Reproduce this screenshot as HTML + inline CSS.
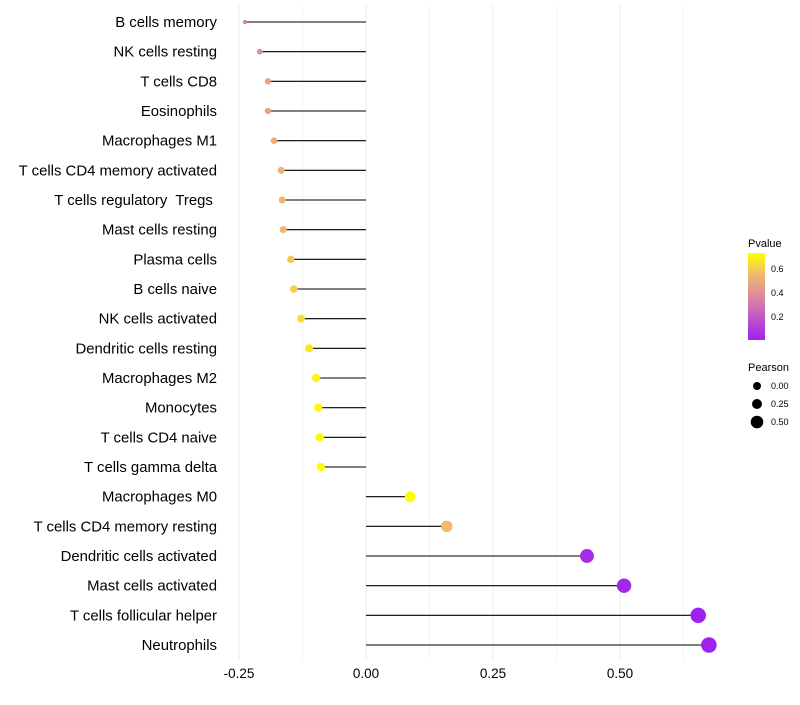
<!DOCTYPE html>
<html><head><meta charset="utf-8"><style>
body{margin:0;background:#fff;font-family:"Liberation Sans",sans-serif;}
text{white-space:pre;}
</style></head><body>
<svg id="chart" width="800" height="700" xmlns="http://www.w3.org/2000/svg">
<g id="grid"></g>
<g id="marks"></g>
<g id="ylabels"></g>
<g id="xlabels"></g>
<g>
<defs><linearGradient id="pg" x1="0" y1="1" x2="0" y2="0">
<stop offset="0" stop-color="#A020F0"/><stop offset="0.5" stop-color="#DB8A9E"/><stop offset="0.75" stop-color="#F0B86E"/><stop offset="1" stop-color="#FFFF00"/></linearGradient></defs>
<text x="748" y="247" font-size="11" fill="#000">Pvalue</text>
<rect x="748" y="253" width="17" height="87" fill="url(#pg)"/>
<text x="771" y="272" font-size="9">0.6</text>
<text x="771" y="296" font-size="9">0.4</text>
<text x="771" y="320" font-size="9">0.2</text>
<text x="748" y="371" font-size="11">Pearson</text>
<circle cx="757" cy="386" r="4" fill="#000"/>
<circle cx="757" cy="404" r="5" fill="#000"/>
<circle cx="757" cy="422" r="6.3" fill="#000"/>
<text x="771" y="389" font-size="9">0.00</text>
<text x="771" y="407" font-size="9">0.25</text>
<text x="771" y="425" font-size="9">0.50</text>
</g>
</svg>
<script>
const categories=["B cells memory","NK cells resting","T cells CD8","Eosinophils","Macrophages M1","T cells CD4 memory activated","T cells regulatory  Tregs ","Mast cells resting","Plasma cells","B cells naive","NK cells activated","Dendritic cells resting","Macrophages M2","Monocytes","T cells CD4 naive","T cells gamma delta","Macrophages M0","T cells CD4 memory resting","Dendritic cells activated","Mast cells activated","T cells follicular helper","Neutrophils"];
const pearson=[-0.238,-0.209,-0.193,-0.193,-0.181,-0.167,-0.165,-0.163,-0.148,-0.142,-0.128,-0.112,-0.098,-0.094,-0.091,-0.089,0.087,0.159,0.435,0.508,0.654,0.675];
const pvalues=[0.33,0.40,0.46,0.46,0.49,0.52,0.53,0.54,0.58,0.60,0.63,0.66,0.69,0.70,0.71,0.71,0.71,0.55,0.05,0.03,0.01,0.01];
const xTicks=[-0.25,0,0.25,0.5];
const xTickLabels=["-0.25","0.00","0.25","0.50"];
const NS="http://www.w3.org/2000/svg";
const x=v=>366+v*508;
const y=i=>22+i*29.667;
function hex(h){return [1,3,5].map(k=>parseInt(h.substr(k,2),16));}
const stops=[[0,"#A020F0"],[0.5,"#DB8A9E"],[0.75,"#F0B86E"],[1,"#FFFF00"]];
function color(p){let t=Math.max(0,Math.min(1,(p-0.01)/0.71));
for(let k=0;k<stops.length-1;k++){if(t<=stops[k+1][0]){const a=hex(stops[k][1]),b=hex(stops[k+1][1]);const f=(t-stops[k][0])/(stops[k+1][0]-stops[k][0]);return "rgb("+a.map((c,j)=>Math.round(c+(b[j]-c)*f)).join(",")+")";}}return stops[3][1];}
const rad=v=>1.8+6*Math.sqrt(Math.max(0,v+0.24)/0.915);
function mk(tag,attrs,parent){const e=document.createElementNS(NS,tag);for(const k in attrs)e.setAttribute(k,attrs[k]);document.getElementById(parent).appendChild(e);return e;}
const grid=[-0.25,-0.125,0,0.125,0.25,0.375,0.5,0.625];
grid.forEach(g=>{const l=mk("line",{x1:x(g),x2:x(g),y1:5,y2:660,stroke:"#ebebeb","stroke-width":(g*8)%2===0?1:0.6},"grid");

});
xTicks.forEach((t,i)=>{const e=mk("text",{x:x(t),y:678,"font-size":13.5,"text-anchor":"middle",fill:"#000"},"xlabels");e.textContent=xTickLabels[i];

});
categories.forEach((c,i)=>{
const t=mk("text",{x:217,y:y(i)+5,"font-size":14.9,"text-anchor":"end",fill:"#000"},"ylabels");t.textContent=c;


const l=mk("line",{x1:x(0),x2:x(pearson[i]),y1:y(i),y2:y(i),stroke:"#000","stroke-width":1.1},"marks");


const p=mk("circle",{cx:x(pearson[i]),cy:y(i),r:rad(pearson[i]),fill:color(pvalues[i])},"marks");


});
</script>
</body></html>
